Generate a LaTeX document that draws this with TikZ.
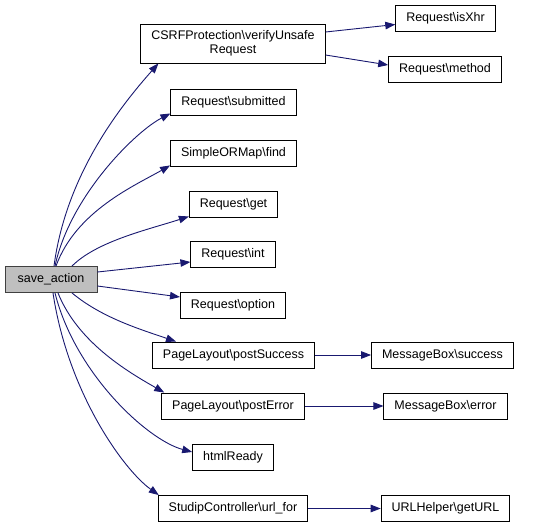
\documentclass[tikz,border=0pt]{standalone}
\usepackage{fontspec}
\setmainfont{Liberation Sans}
\definecolor{edgeblue}{RGB}{25, 25, 112}
\definecolor{rootgray}{RGB}{191, 191, 191}
\definecolor{rootframe}{RGB}{64, 64, 64}
\usepackage{tikz}
\usetikzlibrary{arrows.meta, positioning}
\tikzset{
  fnbox/.style={draw=black, fill=white, line width=0.9pt, minimum height=26pt, inner xsep=10.5pt, inner ysep=2pt, align=center, font=\fontsize{12.5}{14.5}\selectfont},
  rootbox/.style={fnbox, draw=rootframe, fill=rootgray},
  call/.style={-{Triangle[length=10pt, width=7.5pt]}, edgeblue, line width=0.9pt}
}

\begin{document}
\begin{tikzpicture}[x=1pt, y=-1pt]
  \useasboundingbox (0, 0) rectangle (545, 527);

  % Caller
  \node[rootbox, minimum width=92pt] (save) at (51, 279.5) {save\_action};

  % Direct callees
  \node[fnbox, minimum height=39pt] (csrf) at (233, 43.5) {CSRFProtection\textbackslash verifyUnsafe\\Request};
  \node[fnbox] (submitted) at (233.5, 102) {Request\textbackslash submitted};
  \node[fnbox] (find) at (233.5, 153) {SimpleORMap\textbackslash find};
  \node[fnbox] (get) at (233.5, 204) {Request\textbackslash get};
  \node[fnbox] (int) at (233, 254.5) {Request\textbackslash int};
  \node[fnbox] (option) at (233, 305.5) {Request\textbackslash option};
  \node[fnbox] (postsuccess) at (233.5, 355) {PageLayout\textbackslash postSuccess};
  \node[fnbox] (posterror) at (233, 406) {PageLayout\textbackslash postError};
  \node[fnbox] (htmlready) at (233, 457) {htmlReady};
  \node[fnbox] (urlfor) at (233, 508.5) {StudipController\textbackslash url\_for};

  % Second level
  \node[fnbox] (isxhr) at (445.5, 18.5) {Request\textbackslash isXhr};
  \node[fnbox] (method) at (445, 69.5) {Request\textbackslash method};
  \node[fnbox] (msgsuccess) at (442.5, 355) {MessageBox\textbackslash success};
  \node[fnbox] (msgerror) at (445.5, 406) {MessageBox\textbackslash error};
  \node[fnbox] (geturl) at (445.5, 508.5) {URLHelper\textbackslash getURL};

  % Calls from save_action
  \draw[call] ([xshift=3pt]save.north) .. controls +(12, -90) and +(-40, 45) .. ([xshift=18pt]csrf.south west);
  \draw[call] ([xshift=4pt]save.north) .. controls +(15, -70) and +(-35, 18) .. ([yshift=2pt]submitted.south west);
  \draw[call] ([xshift=5pt]save.north) .. controls +(20, -55) and +(-35, 20) .. ([yshift=1pt]find.south west);
  \draw[call] ([xshift=21pt]save.north) .. controls +(25, -25) and +(-40, 13) .. ([yshift=1pt]get.south west);
  \draw[call] ([yshift=7.5pt]save.east) -- ([yshift=-7.5pt]int.west);
  \draw[call] ([yshift=-6.5pt]save.east) -- ([yshift=8.5pt]option.west);
  \draw[call] ([xshift=21pt]save.south) .. controls +(30, 25) and +(-35, -12) .. ([xshift=24pt]postsuccess.north west);
  \draw[call] ([xshift=7pt]save.south) .. controls +(20, 50) and +(-35, -20) .. ([xshift=3pt]posterror.north west);
  \draw[call] ([xshift=4pt]save.south) .. controls +(20, 80) and +(-45, -12) .. ([yshift=5pt]htmlready.west);
  \draw[call] ([xshift=2pt]save.south) .. controls +(15, 100) and +(-35, -25) .. ([xshift=1pt]urlfor.north west);

  % Further calls
  \draw[call] ([yshift=11.5pt]csrf.east) -- ([yshift=-6pt]isxhr.west);
  \draw[call] ([yshift=-11.5pt]csrf.east) -- ([yshift=4.5pt]method.west);
  \draw[call] (postsuccess) -- (msgsuccess);
  \draw[call] (posterror) -- (msgerror);
  \draw[call] (urlfor) -- (geturl);
\end{tikzpicture}
\end{document}
